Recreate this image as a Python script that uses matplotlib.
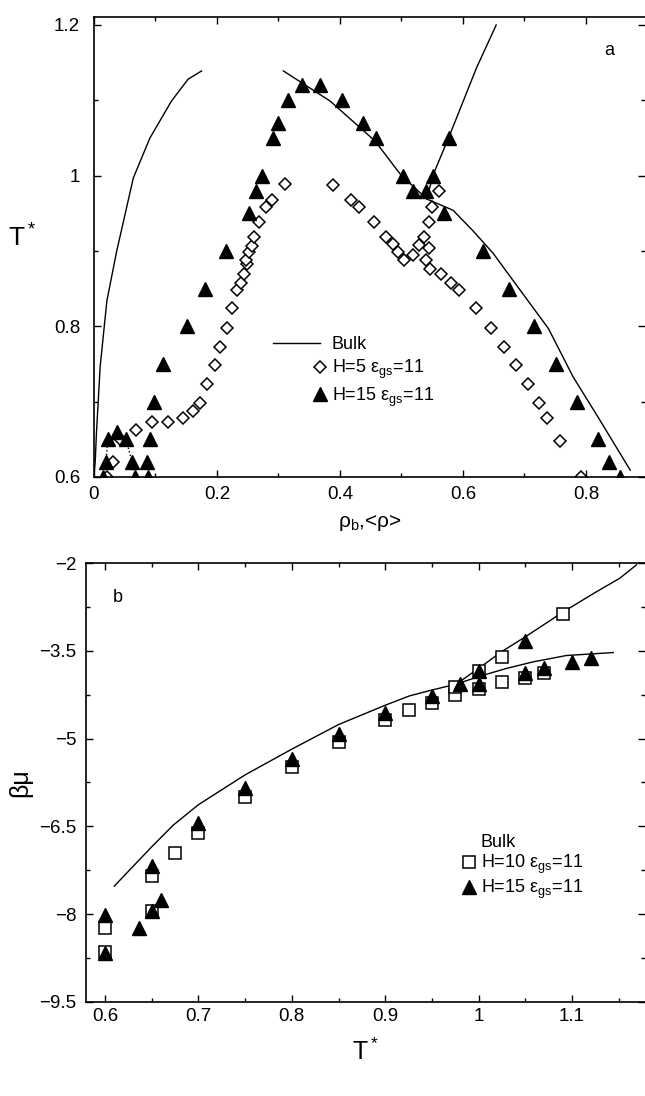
import numpy as np
import matplotlib
matplotlib.use('Agg')
import matplotlib.pyplot as plt
from matplotlib.lines import Line2D
from matplotlib.legend_handler import HandlerLine2D
from matplotlib.ticker import MultipleLocator, FixedLocator, FuncFormatter

plt.rcParams['font.family'] = ['Liberation Sans', 'DejaVu Sans']
plt.rcParams['mathtext.fontset'] = 'custom'
plt.rcParams['mathtext.rm'] = 'Liberation Sans'
plt.rcParams['mathtext.it'] = 'Liberation Sans:italic'

# ---- panel a: T* vs density ----
rho_h5 = [0.021, 0.031, 0.044, 0.068, 0.094, 0.121, 0.144, 0.161, 0.172, 0.184,
          0.197, 0.205, 0.216, 0.224, 0.233, 0.239, 0.244, 0.249, 0.248, 0.252,
          0.257, 0.261, 0.269, 0.279, 0.289, 0.311,
          0.388, 0.418, 0.431, 0.455, 0.475, 0.486, 0.494, 0.504, 0.519, 0.529,
          0.537, 0.544, 0.540, 0.547, 0.545, 0.550, 0.561, 0.565, 0.581, 0.594,
          0.622, 0.645, 0.667, 0.687, 0.706, 0.723, 0.737, 0.758, 0.792]
T_h5 = [0.600, 0.620, 0.649, 0.663, 0.673, 0.673, 0.678, 0.688, 0.698, 0.723,
        0.748, 0.773, 0.798, 0.824, 0.848, 0.858, 0.869, 0.883, 0.888, 0.898,
        0.907, 0.918, 0.938, 0.958, 0.968, 0.989,
        0.988, 0.968, 0.958, 0.938, 0.918, 0.909, 0.899, 0.888, 0.894, 0.908,
        0.919, 0.904, 0.888, 0.876, 0.938, 0.958, 0.979, 0.869, 0.858, 0.848,
        0.824, 0.798, 0.773, 0.748, 0.723, 0.698, 0.678, 0.648, 0.600]

rho_h15 = [0.015, 0.066, 0.088, 0.019, 0.062, 0.086, 0.023, 0.052, 0.091, 0.037,
           0.098, 0.113, 0.152, 0.180, 0.214, 0.252, 0.264, 0.273, 0.291, 0.299,
           0.315, 0.338, 0.367, 0.403, 0.438, 0.459, 0.503, 0.519, 0.540, 0.552,
           0.577, 0.569, 0.632, 0.675, 0.716, 0.751, 0.785, 0.820, 0.838, 0.855]
T_h15 = [0.60, 0.60, 0.60, 0.62, 0.62, 0.62, 0.65, 0.65, 0.65, 0.66,
         0.70, 0.75, 0.80, 0.85, 0.90, 0.95, 0.98, 1.00, 1.05, 1.07,
         1.10, 1.12, 1.12, 1.10, 1.07, 1.05, 1.00, 0.98, 0.98, 1.00,
         1.05, 0.95, 0.90, 0.85, 0.80, 0.75, 0.70, 0.65, 0.62, 0.60]

# dotted connection of the low density H=15 points
rho_dot = [0.015, 0.019, 0.023, 0.037, 0.052, 0.062, 0.066]
T_dot = [0.60, 0.62, 0.65, 0.66, 0.65, 0.62, 0.60]

# bulk coexistence
rho_gas = [0.0, 0.002, 0.004, 0.010, 0.021, 0.037, 0.064, 0.091, 0.126, 0.153, 0.175]
T_gas = [0.60, 0.62, 0.658, 0.746, 0.834, 0.900, 0.997, 1.050, 1.099, 1.128, 1.139]
rho_liq = [0.308, 0.384, 0.457, 0.498, 0.541, 0.584, 0.616, 0.649, 0.693,
           0.739, 0.779, 0.823, 0.872]
T_liq = [1.139, 1.099, 1.046, 1.002, 0.969, 0.954, 0.927, 0.897, 0.848,
         0.797, 0.733, 0.675, 0.609]
rho_up = [0.541, 0.552, 0.579, 0.622, 0.654]
T_up = [0.969, 1.002, 1.055, 1.143, 1.200]

# ---- panel b: beta*mu vs T* ----
T_b10 = [0.6, 0.6, 0.65, 0.65, 0.675, 0.7, 0.75, 0.8, 0.85, 0.9, 0.925,
         0.95, 0.975, 0.975, 1.0, 1.0, 1.025, 1.025, 1.05, 1.07, 1.09]
mu_b10 = [-8.23, -8.65, -7.34, -7.94, -6.96, -6.61, -6.00, -5.49, -5.05, -4.69, -4.51,
          -4.39, -4.25, -4.11, -4.15, -3.85, -4.04, -3.60, -3.96, -3.88, -2.87]
T_b15 = [0.6, 0.6, 0.636, 0.65, 0.66, 0.65, 0.7, 0.75, 0.8, 0.85,
         0.9, 0.95, 0.98, 1.0, 1.0, 1.05, 1.05, 1.07, 1.1, 1.12]
mu_b15 = [-8.01, -8.67, -8.23, -7.95, -7.75, -7.18, -6.45, -5.85, -5.35, -4.93,
          -4.56, -4.27, -4.07, -4.06, -3.85, -3.88, -3.34, -3.79, -3.69, -3.63]
T_bulk = [0.61, 0.65, 0.673, 0.70, 0.75, 0.80, 0.85, 0.90, 0.926, 0.95,
          0.976, 1.0, 1.03, 1.058, 1.094, 1.144]
mu_bulk = [-7.52, -6.85, -6.48, -6.13, -5.62, -5.18, -4.76, -4.43, -4.27, -4.17,
           -4.07, -3.94, -3.80, -3.69, -3.58, -3.53]
T_bulk2 = [0.976, 1.0, 1.025, 1.05, 1.091, 1.123, 1.151, 1.169]
mu_bulk2 = [-4.07, -3.80, -3.51, -3.26, -2.83, -2.52, -2.26, -2.03]

mu_ticks = [-9.5, -8, -6.5, -5, -3.5, -2]
mu_minor = [-8.75, -7.25, -5.75, -4.25, -2.75]


class EndMarker(HandlerLine2D):
    # marker sits at the right end of the key, like the original
    def create_artists(self, *args, **kw):
        arts = super().create_artists(*args, **kw)
        arts[0].set_markevery([2])
        return arts


def fmt(v, pos):
    return ('%g' % v).replace('-', '\u2212')


def style_axes(ax, xpad, ypad):
    ax.tick_params(which='both', direction='in', top=True, right=True,
                   labelsize=13.5, width=1)
    ax.tick_params(which='major', length=5)
    ax.tick_params(which='minor', length=3)
    ax.tick_params(axis='x', pad=xpad)
    ax.tick_params(axis='y', pad=ypad)
    ax.spines['right'].set_visible(False)
    for s in ['left', 'top', 'bottom']:
        ax.spines[s].set_linewidth(1.2)
    ax.xaxis.set_major_formatter(FuncFormatter(fmt))
    ax.yaxis.set_major_formatter(FuncFormatter(fmt))


fig = plt.figure(figsize=(6.45, 10.96), dpi=100)

# panel a
ax1 = fig.add_axes([0.1457, 0.5648, 0.8543, 0.4197])
ax1.plot(rho_gas, T_gas, 'k-', lw=1)
bulk_a, = ax1.plot(rho_liq, T_liq, 'k-', lw=1)
ax1.plot(rho_up, T_up, 'k-', lw=1)
ax1.plot(rho_dot, T_dot, 'k:', lw=1)
h5, = ax1.plot(rho_h5, T_h5, 'D', ls='none', ms=6.4, mfc='white', mec='black', mew=1.1)
h15, = ax1.plot(rho_h15, T_h15, '^', ls='none', ms=10, mfc='black', mec='black')
ax1.set_xlim(0, 0.896)
ax1.set_ylim(0.6, 1.2106)
ax1.xaxis.set_major_locator(MultipleLocator(0.2))
ax1.xaxis.set_minor_locator(MultipleLocator(0.1))
ax1.yaxis.set_major_locator(MultipleLocator(0.2))
ax1.yaxis.set_minor_locator(MultipleLocator(0.1))
style_axes(ax1, 6.5, 10)
ax1.set_xlabel('ρ$_{\\rm b}$,<ρ>', fontsize=15, va='center')
ax1.xaxis.set_label_coords(0.5, -0.1)
ax1.set_ylabel('T$^{\\rm *}$', fontsize=19, rotation=0, ha='center', va='center')
ax1.yaxis.set_label_coords(-0.131, 0.52)
ax1.text(0.936, 0.928, 'a', transform=ax1.transAxes, fontsize=13,
         ha='center', va='center')
ax1.legend([bulk_a, h5, h15],
           ['Bulk', 'H=5 ε$_{\\rm gs}$=11', 'H=15 ε$_{\\rm gs}$=11'],
           loc='upper left', bbox_to_anchor=(0.325, 0.306), frameon=False,
           fontsize=13, handlelength=2.6, handletextpad=0.65, labelspacing=0.25,
           borderpad=0, borderaxespad=0, numpoints=1,
           handler_map={Line2D: EndMarker()})

# panel b
ax2 = fig.add_axes([0.1333, 0.0858, 0.8667, 0.4005])
ax2.plot(T_bulk, mu_bulk, 'k-', lw=1)
ax2.plot(T_bulk2, mu_bulk2, 'k-', lw=1)
s10, = ax2.plot(T_b10, mu_b10, 's', ls='none', ms=8, mfc='white', mec='black', mew=1.1)
t15, = ax2.plot(T_b15, mu_b15, '^', ls='none', ms=10.5, mfc='black', mec='black')
ax2.set_xlim(0.5797, 1.178)
ax2.set_ylim(-9.5, -2)
ax2.xaxis.set_major_locator(MultipleLocator(0.1))
ax2.xaxis.set_minor_locator(MultipleLocator(0.05))
ax2.yaxis.set_major_locator(FixedLocator(mu_ticks))
ax2.yaxis.set_minor_locator(FixedLocator(mu_minor))
style_axes(ax2, 4.5, 7)
ax2.set_xlabel('T$^{\\rm *}$', fontsize=18, va='center')
ax2.xaxis.set_label_coords(0.5, -0.114)
ax2.set_ylabel('βμ', fontsize=18, va='center')
ax2.yaxis.set_label_coords(-0.118, 0.499)
ax2.text(0.057, 0.922, 'b', transform=ax2.transAxes, fontsize=13,
         ha='center', va='center')
blank = Line2D([], [], ls='none')
ax2.legend([blank, s10, t15],
           ['Bulk', 'H=10 ε$_{\\rm gs}$=11', 'H=15 ε$_{\\rm gs}$=11'],
           loc='upper left', bbox_to_anchor=(0.601, 0.382), frameon=False,
           fontsize=13, handlelength=2.6, handletextpad=0.65, labelspacing=0.1,
           borderpad=0, borderaxespad=0, numpoints=1,
           handler_map={Line2D: EndMarker()})

fig.savefig('out.png', dpi=100)
